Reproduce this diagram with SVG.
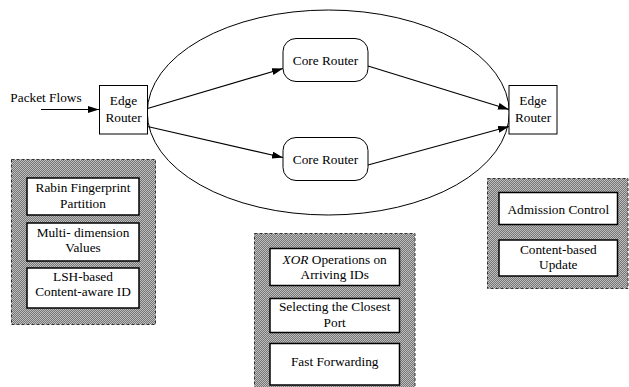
<svg xmlns="http://www.w3.org/2000/svg" width="629" height="387" viewBox="0 0 629 387" font-family="Liberation Serif, Tinos, DejaVu Serif, serif">
  <style>
    text { font-family: "Liberation Serif", Tinos, "DejaVu Serif", serif; font-size: 13.3px; fill: #000; text-anchor: middle; }
    .router { fill: #fff; stroke: #000; stroke-width: 1; }
    .panel { fill: url(#halftone); stroke: #333; stroke-width: 1; stroke-dasharray: 3 2; }
    .item { fill: #fff; stroke: #000; stroke-width: 1.5; }
    .link { fill: none; stroke: #000; stroke-width: 1.2; marker-end: url(#arrow); }
  </style>
  <defs>
    <pattern id="halftone" width="2" height="2" patternUnits="userSpaceOnUse">
      <rect width="2" height="2" fill="#767676"/>
      <rect width="1" height="1" fill="#bdbdbd"/>
      <rect x="1" y="1" width="1" height="1" fill="#bdbdbd"/>
    </pattern>
    <marker id="arrow" markerUnits="userSpaceOnUse" markerWidth="11" markerHeight="7" refX="11" refY="3.5" orient="auto">
      <path d="M0,0 L11,3.5 L0,7 z" fill="#000"/>
    </marker>
  </defs>

  <!-- network cloud -->
  <ellipse cx="328.3" cy="112.5" rx="181" ry="102.5" fill="none" stroke="#000" stroke-width="1"/>

  <!-- connectors -->
  <g id="connectors">
    <line class="link" x1="41" y1="109.5" x2="99" y2="109.5"/>
    <line class="link" x1="147.5" y1="108.5" x2="283" y2="68.5"/>
    <line class="link" x1="147.5" y1="126.5" x2="283" y2="157.5"/>
    <line class="link" x1="368" y1="66" x2="509" y2="109.5"/>
    <line class="link" x1="368" y1="165" x2="509" y2="126.5"/>
  </g>

  <text x="46" y="102">Packet Flows</text>

  <g id="edge-router-in">
    <rect class="router" x="99.5" y="85.5" width="48" height="48.5"/>
    <text x="123.5" y="104.5">Edge</text>
    <text x="123.5" y="121.5">Router</text>
  </g>

  <g id="core-router-top">
    <rect class="router" x="283" y="38.5" width="85" height="43" rx="13"/>
    <text x="325.5" y="64.5">Core Router</text>
  </g>

  <g id="core-router-bottom">
    <rect class="router" x="283" y="137.5" width="85" height="43" rx="13"/>
    <text x="325.5" y="163.5">Core Router</text>
  </g>

  <g id="edge-router-out">
    <rect class="router" x="509" y="85.5" width="48" height="48.5"/>
    <text x="533" y="104.5">Edge</text>
    <text x="533" y="121.5">Router</text>
  </g>

  <!-- ingress functions -->
  <g id="ingress-panel">
    <rect class="panel" x="11.5" y="159.5" width="144" height="165"/>
    <rect class="item" x="27" y="178" width="112" height="37"/>
    <text x="83" y="192">Rabin Fingerprint</text>
    <text x="83" y="207.5">Partition</text>
    <rect class="item" x="27" y="223" width="112" height="38"/>
    <text x="83" y="237">Multi- dimension</text>
    <text x="83" y="252">Values</text>
    <rect class="item" x="27" y="268" width="112" height="40"/>
    <text x="83" y="280.5">LSH-based</text>
    <text x="83" y="296">Content-aware ID</text>
  </g>

  <!-- core functions -->
  <g id="core-panel">
    <rect class="panel" x="254.5" y="233.5" width="160.5" height="160"/>
    <rect class="item" x="270" y="248.5" width="129.5" height="37"/>
    <text x="334.7" y="263.5"><tspan font-style="italic">XOR</tspan> Operations on</text>
    <text x="334.7" y="279">Arriving IDs</text>
    <rect class="item" x="270" y="298.5" width="129.5" height="34"/>
    <text x="334.7" y="311">Selecting the Closest</text>
    <text x="334.7" y="327">Port</text>
    <rect class="item" x="270" y="343.5" width="129.5" height="41.5"/>
    <text x="334.7" y="366">Fast Forwarding</text>
  </g>

  <!-- egress functions -->
  <g id="egress-panel">
    <rect class="panel" x="487.5" y="178.5" width="140.5" height="110"/>
    <rect class="item" x="499" y="192.5" width="118.5" height="32"/>
    <text x="558.3" y="213.5">Admission Control</text>
    <rect class="item" x="499" y="240" width="118.5" height="36"/>
    <text x="558.3" y="253.5">Content-based</text>
    <text x="558.3" y="269">Update</text>
  </g>
</svg>
